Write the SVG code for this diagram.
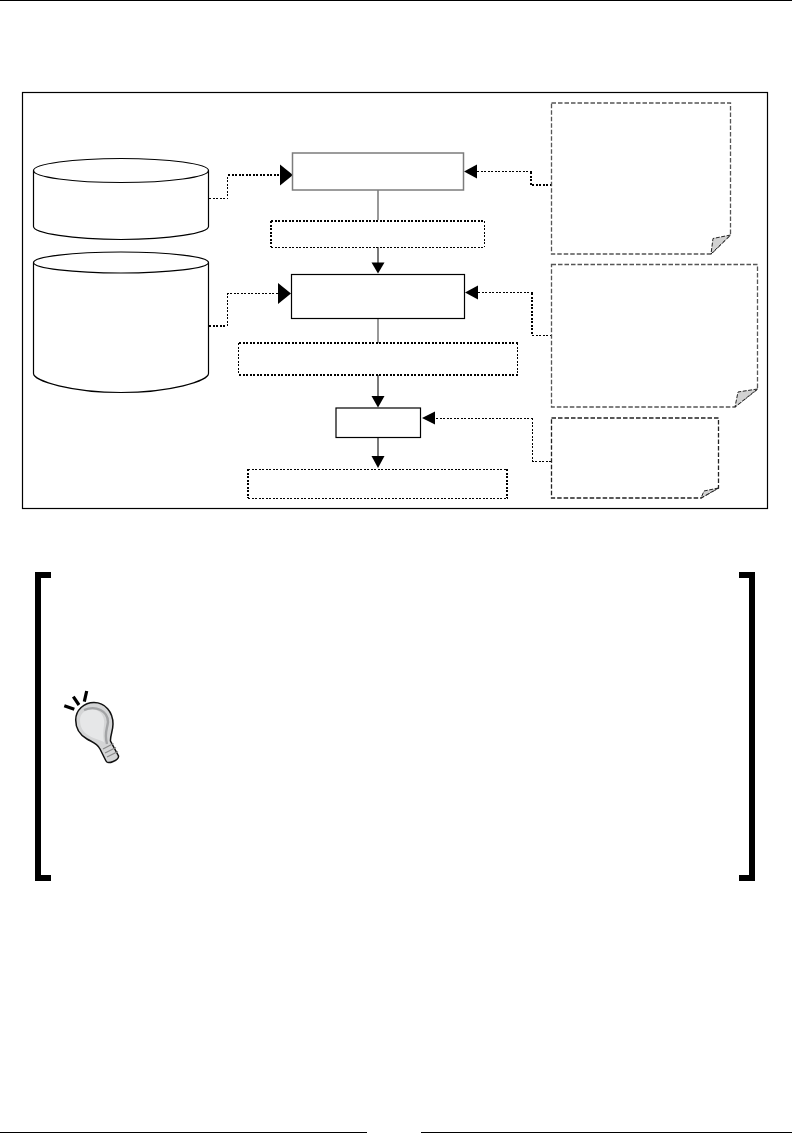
<svg xmlns="http://www.w3.org/2000/svg" width="792" height="1142" viewBox="0 0 792 1142">
<style>
.db{fill:#fff;stroke:#000;stroke-width:1.200}
.box{fill:#fff;stroke:#000;stroke-width:1.200}
.gbox{fill:#fff;stroke:#7c7c7c;stroke-width:1.500}
.bg{fill:#fff}
.thick{fill:none;stroke:#000;stroke-width:2;stroke-dasharray:2 1.500;shape-rendering:crispEdges}
.thin{fill:none;stroke:#000;stroke-width:1;stroke-dasharray:2 1.500;shape-rendering:crispEdges}
.note{fill:#fff;stroke:#555;stroke-width:1.300;stroke-dasharray:4.500 2}
.fold{fill:#d2d2d2;stroke:#222;stroke-width:1;stroke-dasharray:4 1.500}
.flow{fill:none;stroke:#555;stroke-width:1.200}
.head{fill:#000;stroke:none}
.br{fill:#000}
</style>
<rect width="792" height="1142" fill="#fff"/>
<g id="page-rules">
<line x1="0" y1="0.500" x2="792" y2="0.500" stroke="#000" stroke-width="1"/>
<line x1="0" y1="1132.500" x2="367" y2="1132.500" stroke="#000" stroke-width="1.200"/>
<line x1="421" y1="1132.500" x2="792" y2="1132.500" stroke="#000" stroke-width="1.200"/>
</g>
<rect id="frame" x="22.500" y="92.500" width="745" height="416" fill="#fff" stroke="#000" stroke-width="1.200"/>
<g id="connectors">
<path class="flow" d="M378 190V220M378 318V343" stroke="#777"/>
<path class="flow" style="stroke:#222" d="M378 247V264M378 375V397M378 437V457"/>
<path class="thin" d="M209 198.500H227.500V175"/>
<path class="thick" d="M228 175H281"/>
<path class="thick" d="M209 326H227"/>
<path class="thin" d="M227.500 326V293.500H279"/>
<path class="thin" d="M531.500 171.500H476"/>
<path class="thick" d="M531 172V185H551"/>
<path class="thin" d="M532.500 292.500H477"/>
<path class="thick" d="M532 293V335"/>
<path class="thin" d="M532 335.500H551"/>
<path class="thin" d="M532.500 418H434"/>
<path class="thin" d="M532.500 418V461H551"/>
<path class="head" d="M280 164.500L293 175L280 185.500Z"/>
<path class="head" d="M278 283L291 293.500L278 304Z"/>
<path class="head" d="M477 164.500L464 171.500L477 178.500Z"/>
<path class="head" d="M478 285.500L465 292.500L478 299.500Z"/>
<path class="head" d="M435 411.500L422 418L435 424.500Z"/>
<path class="head" d="M371.500 262.500H384.500L378 273.500Z"/>
<path class="head" d="M371.500 396H384.500L378 407.500Z"/>
<path class="head" d="M371.500 456H384.500L378 468Z"/>
</g>
<g id="store-1">
<path class="db" d="M33.500 170.500A87.500 12 0 0 1 208.500 170.500V226.500C208.500 233 170 239.500 121 239.500C72 239.500 33.500 233 33.500 226.500Z"/>
<path class="db" d="M33.500 170.500A87.500 12 0 0 0 208.500 170.500" style="fill:none"/>
</g>
<g id="store-2">
<path class="db" d="M33.500 262.500A87.500 10.500 0 0 1 208.500 262.500V373.500C208.500 381 170 392.500 121 392.500C72 392.500 33.500 381 33.500 373.500Z"/>
<path class="db" d="M33.500 262.500A87.500 10.500 0 0 0 208.500 262.500" style="fill:none"/>
</g>
<g id="step-1"><rect class="gbox" x="292.500" y="153" width="171" height="37"/></g>
<g id="output-1">
<rect class="bg" x="271" y="220" width="214" height="27"/>
<path class="thick" d="M271 221H485M271 221V247"/>
<path class="thin" d="M271 247H485M484.500 221V247"/>
</g>
<g id="step-2"><rect class="box" x="291.500" y="274.500" width="173" height="44"/></g>
<g id="output-2">
<rect class="bg" x="238" y="343" width="280" height="32"/>
<path class="thick" d="M239 343H518M239 375H518"/>
<path class="thin" d="M238.500 343V375M517.500 343V375"/>
</g>
<g id="step-3"><rect class="box" x="336" y="408" width="84.500" height="29.500"/></g>
<g id="output-3">
<rect class="bg" x="248" y="469" width="260" height="29"/>
<path class="thin" d="M248 469.500H508M248 498.500H508"/>
<path class="thick" d="M248 469V498M507 469V498"/>
</g>
<g id="note-1">
<path class="note" d="M551.500 103H730.500V235L711 254H551.500Z"/>
<path class="fold" d="M730.500 235L713 238.500L711 254Z"/>
</g>
<g id="note-2">
<path class="note" d="M551.500 264.500H757.500V389L735 407H551.500Z"/>
<path class="fold" d="M757.500 389L738 392L735 407Z"/>
</g>
<g id="note-3">
<path class="note" d="M551.500 418H718.500V488L701 498H551.500Z" style="stroke:#222"/>
<path class="fold" d="M718.500 488L704 491L701 498Z"/>
</g>
<g id="tip-brackets">
<path class="br" d="M35 572H51V578H41V875H51V881H35Z"/>
<path class="br" d="M755 572H739V578H749V875H739V881H755Z"/>
</g>
<g id="tip-bulb">
<path d="M64.300 705.700L74.300 709.300M73.300 696.700L79 705M86.700 691L84.300 701.700" stroke="#000" stroke-width="3.200" fill="none"/>
<path d="M75.700 720C75.700 710 84 702.500 94 702.500C105 702.500 113 712 113 724C113 731 110 736 110.500 741L118.500 756C119 760 108 765 106 761L100 749C97 743 92 742 87 739C80 735 75.700 728 75.700 720Z" fill="#d4d5d6" stroke="#111" stroke-width="1.500"/>
<path d="M80 720C80 712 88 708 96 710C102 712 105 718 104 725C103 732 103 737 104 742C97 739 92 738 88 735C83 732 80 727 80 720Z" fill="#e6e7e8"/>
<path d="M84 710C96 705 108 711 108 722C107 730 104 733 107 744" fill="none" stroke="#a3a4a6" stroke-width="2.400"/>
<path d="M103 749L113.500 743.500M105 753L116 747.500M107 757L118 751.500" stroke="#8a8a8a" stroke-width="1.200"/>
</g>
</svg>
